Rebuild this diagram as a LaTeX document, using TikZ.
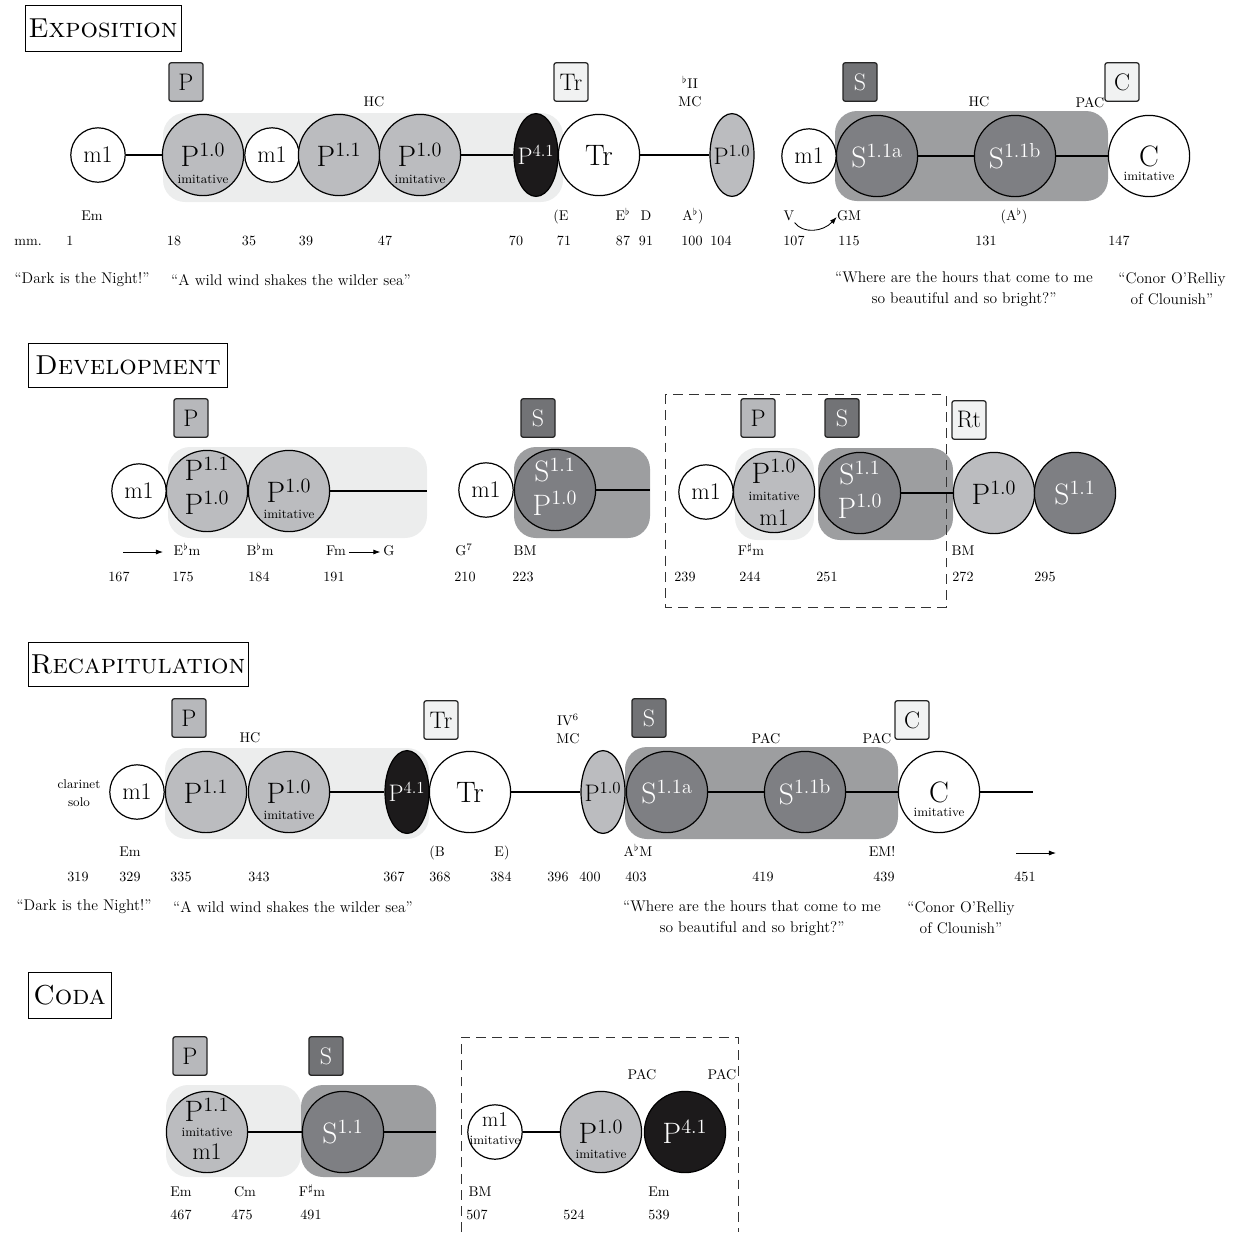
\documentclass[tikz,border=0pt]{standalone}
\usetikzlibrary{shapes.geometric,arrows.meta}

\definecolor{bglight}{RGB}{236,237,237}
\definecolor{sbgc}{RGB}{157,158,160}
\definecolor{pfill}{RGB}{187,188,191}
\definecolor{sfill}{RGB}{126,127,131}
\definecolor{ptagc}{RGB}{183,184,187}
\definecolor{stagc}{RGB}{114,115,118}
\definecolor{ltagc}{RGB}{241,242,242}
\definecolor{kfill}{RGB}{28,26,27}

\newcommand{\ttlfont}{\fontsize{19.5}{22}\selectfont\scshape}
\newcommand{\bigfont}{\fontsize{21}{24}\selectfont}
\newcommand{\ovfont}{\fontsize{17}{20}\selectfont}
\newcommand{\tagfont}{\fontsize{17}{20}\selectfont}
\newcommand{\mfont}{\fontsize{17}{20}\selectfont}
\newcommand{\msfont}{\fontsize{15}{17}\selectfont}
\newcommand{\imfont}{\fontsize{9}{10}\selectfont}
\newcommand{\lblfont}{\fontsize{10}{12}\selectfont}
\newcommand{\qfont}{\fontsize{11}{15}\selectfont}
\newcommand{\smfont}{\fontsize{9}{13}\selectfont}

\tikzset{
  every node/.append style={inner sep=0pt},
  sect/.style={draw, line width=0.6pt, font=\ttlfont},
  tagbox/.style={draw=black!85, line width=0.9pt, rounded corners=1.5pt, minimum width=0.85cm, minimum height=0.96cm, font=\tagfont},
  ptag/.style={tagbox, fill=ptagc},
  stag/.style={tagbox, fill=stagc, text=white},
  ltag/.style={tagbox, fill=ltagc},
  blob/.style={circle, draw, line width=0.85pt, minimum size=2.03cm, font=\bigfont},
  pblob/.style={blob, fill=pfill},
  sblob/.style={blob, fill=sfill, text=white},
  wblob/.style={blob, fill=white},
  kblob/.style={blob, fill=kfill, text=white},
  mblob/.style={circle, draw, line width=0.85pt, fill=white, minimum size=1.36cm, font=\mfont},
  oval/.style={ellipse, draw, line width=0.85pt, minimum width=1.1cm, minimum height=2.07cm, font=\ovfont},
  poval/.style={oval, fill=pfill},
  koval/.style={oval, fill=kfill, text=white},
  big/.style={font=\bigfont},
  bigw/.style={font=\bigfont, text=white},
  mtxt/.style={font=\mfont},
  imit/.style={font=\imfont},
  lbl/.style={font=\lblfont, text height=1.5ex, text depth=0.25ex},
  small/.style={font=\smfont, align=center},
  qt/.style={font=\qfont, align=center},
  joint/.style={line width=1.1pt},
  pbg/.style={fill=bglight, rounded corners=0.55cm},
  sbg/.style={fill=sbgc, rounded corners=0.55cm},
  dashbox/.style={draw=black!80, line width=0.6pt, dash pattern=on 7pt off 4.5pt},
  arr/.style={-{Latex[length=5pt,width=3.6pt]}, line width=0.6pt}
}

\begin{document}
\begin{tikzpicture}[x=0.025cm, y=-0.025cm]
        \useasboundingbox (0,0) rectangle (1242,1232);
        \node[sect, minimum width=3.9cm, minimum height=1.15cm] (secE) at (103,28) {Exposition};
        \fill[pbg] (163,113) rectangle (563,202);
        \fill[sbg] (835,111) rectangle (1108,201);
        \node[ptag] (tgP1) at (186,82) {P};
        \node[ltag] (tgT1) at (571,82) {Tr};
        \node[stag] (tgS1) at (860,82) {S};
        \node[ltag] (tgC1) at (1122,82) {C};
        \node[lbl] (hcA) at (374,103) {HC};
        \node[lbl] (biiA) at (690,85) {$^\flat$II};
        \node[lbl] (mcA) at (690,103) {MC};
        \node[lbl] (hcB) at (979,103) {HC};
        \node[lbl] (pacA) at (1090,104) {PAC};
        \node[mblob] (mA) at (98,155) {m1};
        \node[pblob] (pA) at (203,155) {P$^{1.0}$};
        \node[imit] (pAi) at ([yshift=-0.6cm]pA.center) {imitative};
        \node[mblob] (mB) at (272,155) {m1};
        \node[pblob] (pB) at (339,155) {P$^{1.1}$};
        \node[pblob] (pC) at (420,155) {P$^{1.0}$};
        \node[imit] (pCi) at ([yshift=-0.6cm]pC.center) {imitative};
        \node[koval] (pD) at (536,155) {\makebox[0pt]{P$^{4.1}$}};
        \node[wblob] (trA) at (599,155) {Tr};
        \node[poval] (pE) at (732,155) {\makebox[0pt]{P$^{1.0}$}};
        \node[mblob] (mC) at (809,156) {m1};
        \node[sblob] (sA) at (877,156) {S$^{\mathrm{1.1a}}$};
        \node[sblob] (sB) at (1015,156) {S$^{\mathrm{1.1b}}$};
        \node[wblob] (cA) at (1149,156) {C};
        \node[imit] (cAi) at ([yshift=-0.5cm]cA.center) {imitative};
        \draw[joint] (mA) -- (pA);
        \draw[joint] (pC) -- (pD);
        \draw[joint] (trA) -- (pE);
        \draw[joint] (sA) -- (sB);
        \draw[joint] (sB) -- (cA);
        \node[lbl] (kEmA) at (92,217) {Em};
        \node[lbl] (kEA) at (561,217) {(E};
        \node[lbl] (kEbA) at (623,217) {E$^\flat$};
        \node[lbl] (kDA) at (646,217) {D};
        \node[lbl] (kAbA) at (693,217) {A$^\flat$)};
        \node[lbl] (kVA) at (789,217) {V};
        \node[lbl] (kGMA) at (849,217) {GM};
        \node[lbl] (kAbB) at (1014,217) {(A$^\flat$)};
        \draw[arr] (kVA.south east) .. controls (803,234) and (823,232) .. (kGMA.west);
        \node[lbl] (nmm) at (28,242) {mm.};
        \node[lbl] (n1) at (70,242) {1};
        \node[lbl] (n18) at (174,242) {18};
        \node[lbl] (n35) at (249,242) {35};
        \node[lbl] (n39) at (306,242) {39};
        \node[lbl] (n47) at (385,242) {47};
        \node[lbl] (n70) at (516,242) {70};
        \node[lbl] (n71) at (564,242) {71};
        \node[lbl] (n87) at (623,242) {87};
        \node[lbl] (n91) at (646,242) {91};
        \node[lbl] (n100) at (692,242) {100};
        \node[lbl] (n104) at (721,242) {104};
        \node[lbl] (n107) at (794,242) {107};
        \node[lbl] (n115) at (849,242) {115};
        \node[lbl] (n131) at (986,242) {131};
        \node[lbl] (n147) at (1119,242) {147};
        \node[qt] (qA) at (82,280) {``Dark is the Night!''};
        \node[qt] (qB) at (291,280) {``A wild wind shakes the wilder sea''};
        \node[qt] (qC) at (964,289) {``Where are the hours that come to me\\so beautiful and so bright?''};
        \node[qt] (qD) at (1172,289) {``Conor O'Relliy\\of Clounish''};

        \node[sect, minimum width=4.96cm, minimum height=1.1cm] (secD) at (128,365) {Development};
        \fill[pbg] (168,447) rectangle (427,538);
        \fill[sbg] (514,447) rectangle (650,538);
        \fill[pbg] (735,448) rectangle (814,540);
        \fill[sbg] (818,448) rectangle (953,540);
        \draw[dashbox] (665,394) rectangle (946,607);
        \node[ptag] (tgP2) at (191,418) {P};
        \node[stag] (tgS2) at (538,418) {S};
        \node[ptag] (tgP3) at (758,418) {P};
        \node[stag] (tgS3) at (842,418) {S};
        \node[ltag] (tgR) at (969,420) {Rt};
        \node[mblob] (mF) at (139,491) {m1};
        \node[pblob] (pF) at (207,491) {};
        \node[big] (pFa) at ([yshift=0.55cm]pF.center) {P$^{1.1}$};
        \node[big] (pFb) at ([yshift=-0.3cm]pF.center) {P$^{1.0}$};
        \node[pblob] (pG) at (289,491) {P$^{1.0}$};
        \node[imit] (pGi) at ([yshift=-0.58cm]pG.center) {imitative};
        \coordinate (endA) at (427,491);
        \draw[joint] (pG) -- (endA);
        \node[mblob] (mG) at (486,490) {m1};
        \node[sblob] (sC) at (555,490) {};
        \node[bigw] (sCa) at ([yshift=0.5cm]sC.center) {S$^{1.1}$};
        \node[bigw] (sCb) at ([yshift=-0.33cm]sC.center) {P$^{1.0}$};
        \coordinate (endB) at (650,490);
        \draw[joint] (sC) -- (endB);
        \node[mblob] (mH) at (706,492) {m1};
        \node[pblob] (pH) at (774,492) {};
        \node[big] (pHa) at ([yshift=0.52cm]pH.center) {P$^{1.0}$};
        \node[imit] (pHb) at ([yshift=-0.1cm]pH.center) {imitative};
        \node[mtxt] (pHc) at ([yshift=-0.65cm]pH.center) {m1};
        \node[sblob] (sD) at (860,493) {};
        \node[bigw] (sDa) at ([yshift=0.5cm]sD.center) {S$^{1.1}$};
        \node[bigw] (sDb) at ([yshift=-0.33cm]sD.center) {P$^{1.0}$};
        \node[pblob] (pI) at (994,493) {P$^{1.0}$};
        \node[sblob] (sE) at (1075,493) {S$^{1.1}$};
        \draw[joint] (sD) -- (pI);
        \coordinate (arAs) at (123,552);
        \coordinate (arAe) at (163,552);
        \draw[arr] (arAs) -- (arAe);
        \node[lbl] (kEbm) at (187,552) {E$^\flat$m};
        \node[lbl] (kBbm) at (260,552) {B$^\flat$m};
        \node[lbl] (kFm) at (336,552) {Fm};
        \node[lbl] (kG) at (389,552) {G};
        \draw[arr] ([xshift=2pt]kFm.east) -- ([xshift=-2pt]kG.west);
        \node[lbl] (kG7) at (464,552) {G$^7$};
        \node[lbl] (kBMA) at (525,552) {BM};
        \node[lbl] (kFsm) at (751,552) {F$^\sharp$m};
        \node[lbl] (kBMB) at (963,552) {BM};
        \node[lbl] (n167) at (119,578) {167};
        \node[lbl] (n175) at (183,578) {175};
        \node[lbl] (n184) at (259,578) {184};
        \node[lbl] (n191) at (334,578) {191};
        \node[lbl] (n210) at (465,578) {210};
        \node[lbl] (n223) at (523,578) {223};
        \node[lbl] (n239) at (685,578) {239};
        \node[lbl] (n244) at (750,578) {244};
        \node[lbl] (n251) at (827,578) {251};
        \node[lbl] (n272) at (963,578) {272};
        \node[lbl] (n295) at (1045,578) {295};

        \node[sect, minimum width=5.5cm, minimum height=1.1cm] (secR) at (138,664) {Recapitulation};
        \fill[pbg] (165,748) rectangle (429,839);
        \fill[sbg] (625,747) rectangle (898,839);
        \node[ptag] (tgP4) at (189,718) {P};
        \node[ltag] (tgT2) at (441,720) {Tr};
        \node[stag] (tgS4) at (649,718) {S};
        \node[ltag] (tgC2) at (912,720) {C};
        \node[lbl] (hcC) at (250,739) {HC};
        \node[lbl] (ivA) at (568,722) {IV$^6$};
        \node[lbl] (mcB) at (568,740) {MC};
        \node[lbl] (pacB) at (766,740) {PAC};
        \node[lbl] (pacC) at (877,740) {PAC};
        \node[small] (clar) at (79,793) {clarinet\\solo};
        \node[mblob] (mI) at (137,792) {m1};
        \node[pblob] (pJ) at (206,792) {P$^{1.1}$};
        \node[pblob] (pK) at (289,792) {P$^{1.0}$};
        \node[imit] (pKi) at ([yshift=-0.58cm]pK.center) {imitative};
        \node[koval] (pL) at (407,792) {\makebox[0pt]{P$^{4.1}$}};
        \node[wblob] (trB) at (470,792) {Tr};
        \node[poval] (pM) at (603,792) {\makebox[0pt]{P$^{1.0}$}};
        \node[sblob] (sF) at (667,792) {S$^{\mathrm{1.1a}}$};
        \node[sblob] (sG) at (805,792) {S$^{\mathrm{1.1b}}$};
        \node[wblob] (cB) at (939,792) {C};
        \node[imit] (cBi) at ([yshift=-0.5cm]cB.center) {imitative};
        \coordinate (endC) at (1033,792);
        \draw[joint] (pK) -- (pL);
        \draw[joint] (trB) -- (pM);
        \draw[joint] (sF) -- (sG);
        \draw[joint] (sG) -- (cB);
        \draw[joint] (cB) -- (endC);
        \node[lbl] (kEmB) at (130,853) {Em};
        \node[lbl] (kBC) at (437,853) {(B};
        \node[lbl] (kEC) at (502,853) {E)};
        \node[lbl] (kAbM) at (638,853) {A$^\flat$M};
        \node[lbl] (kEM) at (882,853) {EM!};
        \coordinate (arBs) at (1016,853);
        \coordinate (arBe) at (1056,853);
        \draw[arr] (arBs) -- (arBe);
        \node[lbl] (n319) at (78,878) {319};
        \node[lbl] (n329) at (130,878) {329};
        \node[lbl] (n335) at (181,878) {335};
        \node[lbl] (n343) at (259,878) {343};
        \node[lbl] (n367) at (394,878) {367};
        \node[lbl] (n368) at (440,878) {368};
        \node[lbl] (n384) at (501,878) {384};
        \node[lbl] (n396) at (558,878) {396};
        \node[lbl] (n400) at (590,878) {400};
        \node[lbl] (n403) at (636,878) {403};
        \node[lbl] (n419) at (763,878) {419};
        \node[lbl] (n439) at (884,878) {439};
        \node[lbl] (n451) at (1025,878) {451};
        \node[qt] (qE) at (84,907) {``Dark is the Night!''};
        \node[qt] (qF) at (293,907) {``A wild wind shakes the wilder sea''};
        \node[qt] (qG) at (752,918) {``Where are the hours that come to me\\so beautiful and so bright?''};
        \node[qt] (qH) at (961,918) {``Conor O'Relliy\\of Clounish''};

        \node[sect, minimum width=2.075cm, minimum height=1.15cm] (secC) at (69.5,995) {Coda};
        \fill[pbg] (166,1085) rectangle (301,1177);
        \fill[sbg] (301,1085) rectangle (436,1177);
        \draw[dashbox] (461,1232) -- (461,1037) -- (738,1037) -- (738,1232);
        \node[ptag] (tgP5) at (190,1056) {P};
        \node[stag] (tgS5) at (326,1056) {S};
        \node[lbl] (pacD) at (642,1076) {PAC};
        \node[lbl] (pacE) at (722,1076) {PAC};
        \node[pblob] (pN) at (207,1132) {};
        \node[big] (pNa) at ([yshift=0.55cm]pN.center) {P$^{1.1}$};
        \node[imit] (pNb) at ([yshift=0cm]pN.center) {imitative};
        \node[mtxt] (pNc) at ([yshift=-0.5cm]pN.center) {m1};
        \node[sblob] (sH) at (343,1132) {S$^{1.1}$};
        \coordinate (endD) at (436,1132);
        \draw[joint] (pN) -- (sH);
        \draw[joint] (sH) -- (endD);
        \node[mblob] (mD) at (495,1132) {};
        \node[font=\msfont] (mDa) at ([yshift=0.3cm]mD.center) {m1};
        \node[imit] (mDb) at ([yshift=-0.2cm]mD.center) {imitative};
        \node[pblob] (pO) at (601,1132) {P$^{1.0}$};
        \node[imit] (pOi) at ([yshift=-0.55cm]pO.center) {imitative};
        \node[kblob] (pP) at (685,1132) {P$^{4.1}$};
        \draw[joint] (mD) -- (pO);
        \node[lbl] (kEmC) at (181,1193) {Em};
        \node[lbl] (kCm) at (245,1193) {Cm};
        \node[lbl] (kFsmB) at (312,1193) {F$^\sharp$m};
        \node[lbl] (kBMC) at (480,1193) {BM};
        \node[lbl] (kEmD) at (659,1193) {Em};
        \node[lbl] (n467) at (181,1216) {467};
        \node[lbl] (n475) at (242,1216) {475};
        \node[lbl] (n491) at (311,1216) {491};
        \node[lbl] (n507) at (477,1216) {507};
        \node[lbl] (n524) at (574,1216) {524};
        \node[lbl] (n539) at (659,1216) {539};
\end{tikzpicture}
\end{document}
